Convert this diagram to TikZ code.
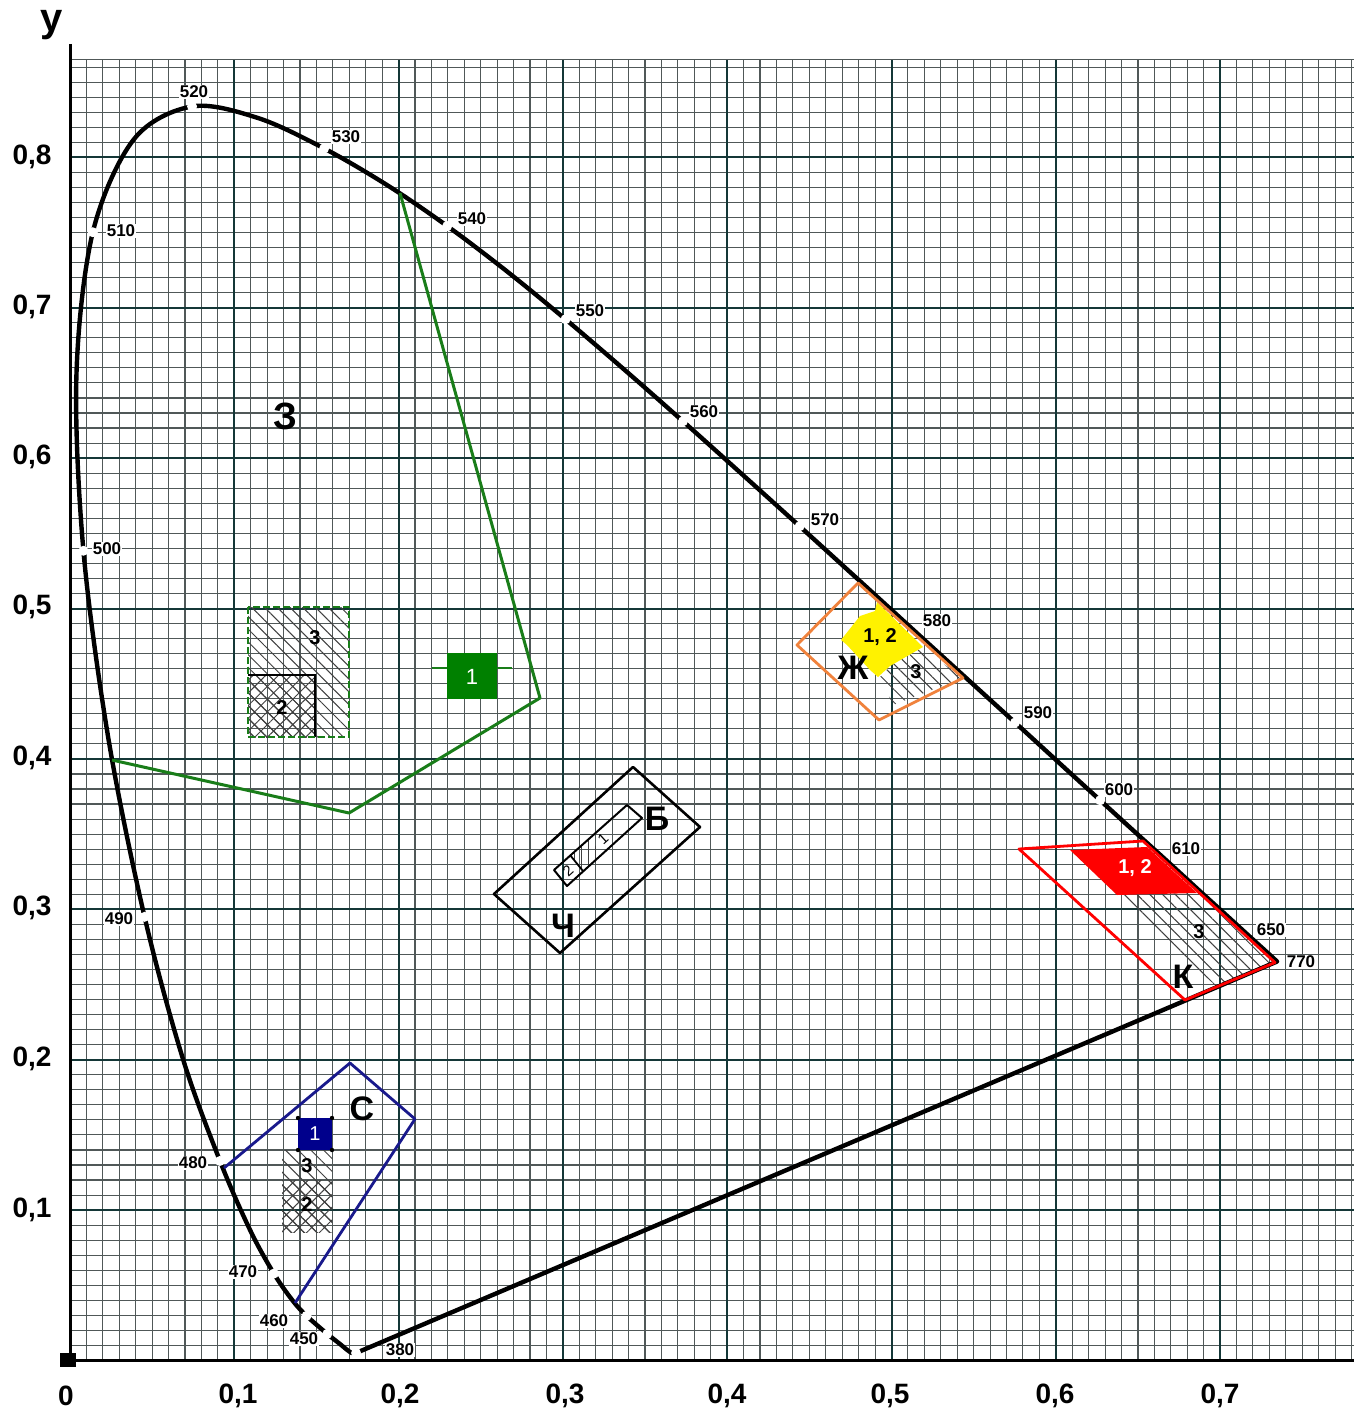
\documentclass[tikz,border=0pt]{standalone}
\usepackage{fontspec}
\setmainfont{Liberation Sans}
\usetikzlibrary{patterns.meta}
\definecolor{gline}{RGB}{25,125,25}
\definecolor{gfill}{RGB}{0,128,0}
\definecolor{bline}{RGB}{25,25,140}
\definecolor{bfill}{RGB}{0,0,140}
\definecolor{oline}{RGB}{240,130,60}
\definecolor{gridmaj}{RGB}{20,55,55}
\definecolor{gridmin}{RGB}{80,88,88}
\begin{document}
\begin{tikzpicture}[x=0.5pt,y=-0.5pt,
  cie/.style={shift={(70,1360.5)},xscale=1643,yscale=-1504},
  gmin/.style={draw=gridmin,line width=0.55pt},
  gmaj/.style={draw=gridmaj,line width=1pt},
  locus/.style={draw=black,line width=2.2pt,line join=round},
  gapdot/.style={circle,fill=white,inner sep=0pt,minimum size=5pt},
  wl/.style={font=\bfseries\fontsize{8.5}{9}\selectfont,fill=white,inner sep=0.5pt},
  axl/.style={font=\bfseries\fontsize{14}{16}\selectfont},
  big/.style={font=\bfseries\fontsize{17}{19}\selectfont,inner sep=0.5pt},
  num/.style={font=\bfseries\fontsize{10}{11}\selectfont,inner sep=0.5pt},
  small/.style={font=\fontsize{7.5}{8}\selectfont,inner sep=0pt},
  hatchone/.style={pattern={Lines[angle=-45,distance=4.5pt,line width=0.5pt]},pattern color=black!75},
  hatchtwo/.style={pattern={Hatch[angle=45,distance=4.5pt,line width=0.5pt]},pattern color=black!75},
  hatchv/.style={pattern={Lines[angle=90,distance=3.5pt,line width=0.5pt]},pattern color=black!75},
  greenline/.style={draw=gline,line width=1.5pt,line join=round},
  greendash/.style={draw=gline,line width=1.3pt,dash pattern=on 3.5pt off 1.5pt},
  blueline/.style={draw=bline,line width=1.4pt,line join=round},
  orangeline/.style={draw=oline,line width=1.4pt,line join=round},
  redline/.style={draw=red,line width=1.4pt,line join=round},
  blackbox/.style={draw=black,line width=1.3pt,line join=round}
]
\useasboundingbox (0,0) rectangle (1354,1412);
\fill[white] (0,0) rectangle (1354,1412);

% ---------- grid ----------
\begin{scope}[cie]
  \foreach \i in {1,...,78} {\draw[gmin] ({\i/100},0) -- ({\i/100},0.865);}
  \foreach \j in {1,...,86} {\draw[gmin] (0,{\j/100}) -- (0.7815,{\j/100});}
  \draw[gmin] (0,0.865) -- (0.7815,0.865);
  \foreach \i in {1,...,7} {\draw[gmaj] ({\i/10},0) -- ({\i/10},0.865);}
  \foreach \j in {1,...,8} {\draw[gmaj] (0,{\j/10}) -- (0.7815,{\j/10});}
\end{scope}

% axes
\draw[line width=1.5pt] (70,44) -- (70,1360.5);
\draw[line width=1.5pt] (70,1360.5) -- (1354,1360.5);
\fill (60,1353) rectangle (76,1367);
\node[font=\bfseries\fontsize{20}{22}\selectfont] (ylab) at (52,25) {y};

% ---------- fills and hatches ----------
% green region
\fill[hatchone] (248,607) rectangle (349,737);
\fill[hatchtwo] (248,675) rectangle (315,737);
% blue region
\fill[hatchone] (282,1150) rectangle (332,1232);
\fill[hatchtwo] (282,1180) rectangle (332,1232);
% yellow region
\fill[yellow] (877,602) -- (923,647) -- (890,666) -- (878,677) -- (870,670) -- (847,645) -- (841,640) -- (860,616) -- (875,611) -- cycle;
\fill[hatchone] (922,648) -- (963,678) -- (893,705) -- (880,677) -- (890,666) -- cycle;
% red region
\fill[red] (1070,850) -- (1147,847) -- (1197,893) -- (1117,895) -- cycle;
\fill[hatchone] (1117,895) -- (1197,893) -- (1275,962.5) -- (1217,987) -- cycle;

% ---------- spectral locus ----------
\begin{scope}[cie]
  \draw[locus] plot[smooth,tension=0.55] coordinates {
    (0.1741,0.0050) (0.1714,0.0051) (0.1689,0.0069) (0.1644,0.0109)
    (0.1566,0.0177) (0.1440,0.0297) (0.1355,0.0399) (0.1241,0.0578)
    (0.1096,0.0868) (0.0913,0.1327) (0.0687,0.2007) (0.0454,0.2950)
    (0.0235,0.4127) (0.0082,0.5384) (0.0039,0.6548) (0.0139,0.7502)
    (0.0389,0.8120) (0.0743,0.8338) (0.1142,0.8262) (0.1547,0.8059)
    (0.1929,0.7816) (0.2296,0.7543) (0.2658,0.7243) (0.3016,0.6923)
    (0.3373,0.6589) (0.3731,0.6245) (0.4087,0.5896) (0.4441,0.5547)
    (0.4788,0.5202) (0.5125,0.4866) (0.5448,0.4544) (0.5752,0.4242)
    (0.6029,0.3965) (0.6270,0.3725) (0.6482,0.3514) (0.6658,0.3340)
    (0.6801,0.3197) (0.6915,0.3083) (0.7079,0.2920) (0.7190,0.2809)
    (0.7260,0.2740) (0.7300,0.2700) (0.7347,0.2653)} -- cycle;
  \foreach \p/\n in {(0.1741,0.0050)/g380,(0.1566,0.0177)/g450,(0.1440,0.0297)/g460,
      (0.1241,0.0578)/g470,(0.0913,0.1327)/g480,(0.0454,0.2950)/g490,
      (0.0082,0.5384)/g500,(0.0139,0.7502)/g510,(0.0743,0.8338)/g520,
      (0.1547,0.8059)/g530,(0.2296,0.7543)/g540,(0.3016,0.6923)/g550,
      (0.3731,0.6245)/g560,(0.4441,0.5547)/g570,(0.5752,0.4242)/g590,
      (0.6270,0.3725)/g600}
    {\node[gapdot] (\n) at \p {};}
\end{scope}

% ---------- outlines ----------
% green
\draw[greenline] (400,193) -- (540,698) -- (349,813) -- (112,760);
\draw[draw=gline,line width=0.6pt] (432,668) -- (512,668);
\fill[gfill] (447,653) rectangle (497,699);
\draw[line width=0.6pt] (248,675) -- (315,675) -- (315,737);
\draw[greendash] (248,607) rectangle (349,737);
% white / black
\draw[blackbox] (633,767) -- (700,827) -- (560,953) -- (494,894) -- cycle;
\fill[hatchv] (570,855) -- (589,838) -- (602,854) -- (583,871) -- cycle;
\draw[line width=1pt,line join=round] (554,870) -- (627,805) -- (642,818) -- (567,886) -- cycle;
\draw[line width=0.9pt] (570,855) -- (583,871);
% yellow
\draw[orangeline] (858,583) -- (963,678) -- (879,720) -- (797,645) -- cycle;
% red
\draw[redline] (1019,849) -- (1143,841) -- (1275,962.5) -- (1185,1000) -- cycle;
% blue
\draw[blueline] (224,1168) -- (350,1063) -- (415,1119) -- (295,1303);
\fill[bfill] (298,1118) rectangle (332,1150);
\foreach \q in {(298,1118),(332,1118),(298,1150),(332,1150)} {\fill \q circle (2.2);}

% ---------- wavelength labels ----------
\node[wl] (l520) at (194,92) {520};
\node[wl] (l530) at (346,137) {530};
\node[wl] (l510) at (121,231) {510};
\node[wl] (l540) at (472,219) {540};
\node[wl] (l550) at (590,311) {550};
\node[wl] (l560) at (704,412) {560};
\node[wl] (l570) at (825,520) {570};
\node[wl] (l580) at (937,621) {580};
\node[wl] (l590) at (1038,713) {590};
\node[wl] (l600) at (1119,790) {600};
\node[wl] (l610) at (1186,849) {610};
\node[wl] (l650) at (1271,930) {650};
\node[wl] (l770) at (1301,962) {770};
\node[wl] (l500) at (107,549) {500};
\node[wl] (l490) at (119,919) {490};
\node[wl] (l480) at (193,1163) {480};
\node[wl] (l470) at (243,1272) {470};
\node[wl] (l460) at (274,1321) {460};
\node[wl] (l450) at (304,1339) {450};
\node[wl] (l380) at (400,1350) {380};

% ---------- axis labels ----------
\foreach \t/\xx in {0/66,{0,1}/238,{0,2}/400,{0,3}/565,{0,4}/727,{0,5}/890,{0,6}/1055,{0,7}/1220}
  {\node[axl] at (\xx,1396) {\t};}
\foreach \t/\yy in {{0,8}/157,{0,7}/307,{0,6}/457,{0,5}/607,{0,4}/758,{0,3}/908,{0,2}/1059,{0,1}/1210}
  {\node[axl] at (32,\yy) {\t};}

% ---------- region labels ----------
\node[big,font=\bfseries\fontsize{19}{21}\selectfont] (Z) at (285,416) {З};
\node[font=\fontsize{11}{12}\selectfont,text=white] (g1) at (472,677) {1};
\node[num] (g3) at (315,638) {3};
\node[num] (g2) at (282,708) {2};

\node[big] (B) at (657,819) {Б};
\node[big] (Ch) at (563,926) {Ч};
\node[small,rotate=42] (b1) at (603,839) {1};
\node[small,rotate=42] (b2) at (568,871) {2};

\node[num] (y12) at (880,637) {1, 2};
\node[big] (Zh) at (853,668) {Ж};
\node[num] (y3) at (916,672) {3};

\node[num,text=white] (r12) at (1135,868) {1, 2};
\node[num] (r3) at (1199,932) {3};
\node[big] (K) at (1183,977) {К};

\node[font=\fontsize{10}{11}\selectfont,text=white] (c1) at (315,1134) {1};
\node[num] (c3) at (307,1166) {3};
\node[num] (c2) at (307,1205) {2};
\node[big] (C) at (362,1109) {С};
\end{tikzpicture}
\end{document}
